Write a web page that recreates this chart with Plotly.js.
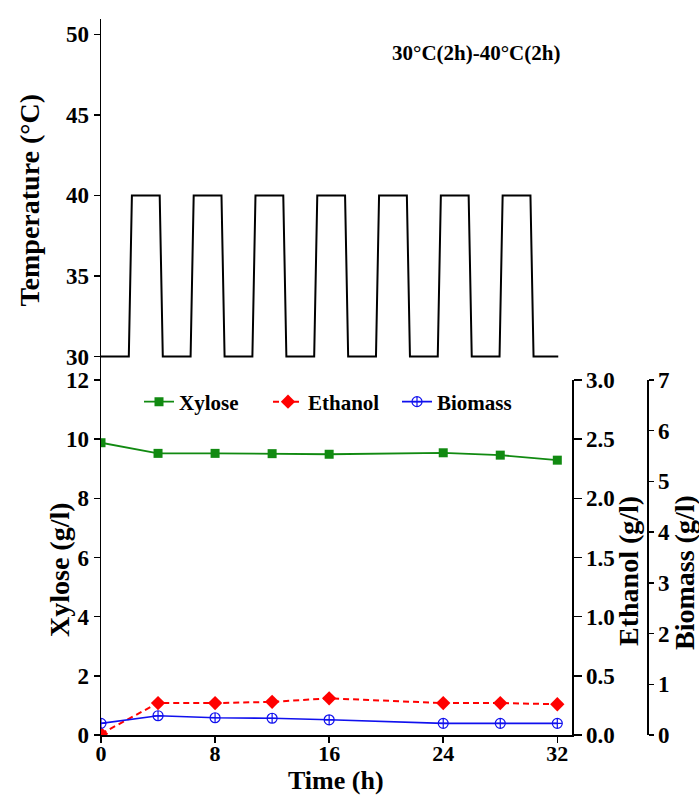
<!DOCTYPE html>
<html>
<head>
<meta charset="utf-8">
<script src="https://cdn.plot.ly/plotly-3.0.1.min.js"></script>
<style>
html,body{margin:0;padding:0;background:#fff;}
#chart{width:699px;height:796px;}
</style>
</head>
<body>
<div id="chart"></div>
<script>
// ---- Data ----
var time = [0, 4, 8, 12, 16, 24, 28, 32];
var xylose = [9.88, 9.52, 9.52, 9.51, 9.49, 9.54, 9.46, 9.29];
var ethanol = [0.01, 0.27, 0.27, 0.28, 0.31, 0.27, 0.27, 0.26];
var biomass = [0.23, 0.38, 0.34, 0.33, 0.30, 0.23, 0.23, 0.23];

var tempTime = [0, 1.8, 2, 3.8, 4, 5.8, 6, 7.8, 8, 9.8, 10, 11.8, 12, 13.8, 14,
                15.8, 16, 17.8, 18, 19.8, 20, 21.8, 22, 23.8, 24, 25.8, 26, 27.8, 28, 29.6];
var tempValue = [30, 30, 40, 40, 30, 30, 40, 40, 30, 30, 40, 40, 30, 30, 40,
                 40, 30, 30, 40, 40, 30, 30, 40, 40, 30, 30, 40, 40, 30, 30];

var xTicks = [0, 8, 16, 24, 32];
var xyloseTicks = [0, 2, 4, 6, 8, 10, 12];
var ethanolTicks = [0, 0.5, 1.0, 1.5, 2.0, 2.5, 3.0];
var ethanolTickText = ['0.0', '0.5', '1.0', '1.5', '2.0', '2.5', '3.0'];
var biomassTicks = [0, 1, 2, 3, 4, 5, 6, 7];
var tempTicks = [30, 35, 40, 45, 50];

var seriesNames = ['Xylose', 'Ethanol', 'Biomass'];
var panelLabel = '30°C(2h)-40°C(2h)';

// ---- Styling ----
var FAM = 'Liberation Serif, Times New Roman, serif';
var tickFont = {family: FAM, size: 23, color: '#000', weight: 'bold'};
var titleFont = {family: FAM, size: 28, color: '#000', weight: 'bold'};

var traces = [
  {x: tempTime, y: tempValue, xaxis: 'x2', yaxis: 'y4', mode: 'lines',
   line: {color: '#000', width: 2}, showlegend: false, hoverinfo: 'skip'},
  {x: time, y: xylose, name: seriesNames[0], xaxis: 'x', yaxis: 'y', mode: 'lines+markers',
   line: {color: '#118a11', width: 1.8},
   marker: {symbol: 'square', size: 9, color: '#118a11'}},
  {x: time, y: ethanol, name: seriesNames[1], xaxis: 'x', yaxis: 'y2', mode: 'lines+markers',
   line: {color: '#ff0000', width: 2, dash: '6px,4px'},
   marker: {symbol: 'diamond', size: 11, color: '#ff0000'}},
  {x: time, y: biomass, name: seriesNames[2], xaxis: 'x', yaxis: 'y3', mode: 'lines+markers',
   line: {color: '#1010ee', width: 1.6},
   marker: {symbol: 'circle-cross-open', size: 10, color: '#1010ee', line: {width: 1.2, color: '#1010ee'}}}
];

var L = 101, R = 52, T = 19, B = 61;
var W = 699, H = 796;
var pw = W - L - R, ph = H - T - B;
function px2x(p){ return (p - L) / pw; }
function px2y(p){ return (H - B - p) / ph; }
var xEnd = px2x(572);
var split = px2y(380);

var axisCommon = {showline: true, linecolor: '#000', linewidth: 1.5, ticks: 'outside',
  tickcolor: '#000', tickwidth: 1.5, ticklen: 6, showgrid: false, zeroline: false,
  tickfont: tickFont, fixedrange: true};

var layout = {
  width: W, height: H,
  margin: {l: L, r: R, t: T, b: B},
  paper_bgcolor: '#fff', plot_bgcolor: 'rgba(0,0,0,0)',
  showlegend: true,
  legend: {orientation: 'h', x: px2x(139), xanchor: 'left', y: px2y(402), yanchor: 'middle',
    font: {family: FAM, size: 21, color: '#000', weight: 'bold'}, bgcolor: 'rgba(0,0,0,0)',
    itemwidth: 30, entrywidth: 84, entrywidthmode: 'pixels'},
  xaxis: Object.assign({}, axisCommon, {domain: [0, xEnd], range: [0, 33.03], anchor: 'y',
    tickvals: xTicks, ticklen: 6, ticklabelstandoff: -8,
    tickfont: {family: FAM, size: 22, color: '#000', weight: 'bold'}}),
  yaxis: Object.assign({}, axisCommon, {domain: [0, split], range: [0, 12], anchor: 'x',
    tickvals: xyloseTicks}),
  yaxis2: Object.assign({}, axisCommon, {overlaying: 'y', side: 'right', anchor: 'x',
    range: [0, 3], tickvals: ethanolTicks, ticktext: ethanolTickText, ticklen: 8}),
  yaxis3: Object.assign({}, axisCommon, {overlaying: 'y', side: 'right', anchor: 'free',
    position: 1, range: [0, 7], tickvals: biomassTicks, ticklen: 5}),
  xaxis2: {domain: [0, xEnd], range: [0, 30.49], anchor: 'y4', visible: false, fixedrange: true},
  yaxis4: Object.assign({}, axisCommon, {domain: [split, 1], range: [28.54, 50.95], anchor: 'x2',
    tickvals: tempTicks}),
  annotations: [
    {text: panelLabel, xref: 'paper', yref: 'paper', x: px2x(562), y: px2y(53),
     xanchor: 'right', yanchor: 'middle', showarrow: false,
     font: {family: FAM, size: 21, color: '#000', weight: 'bold'}},
    {text: 'Temperature (°C)', xref: 'paper', yref: 'paper', x: px2x(28.5), y: px2y(200),
     xanchor: 'center', yanchor: 'middle', textangle: -90, showarrow: false, font: titleFont},
    {text: 'Xylose (g/l)', xref: 'paper', yref: 'paper', x: px2x(59), y: px2y(570),
     xanchor: 'center', yanchor: 'middle', textangle: -90, showarrow: false, font: titleFont},
    {text: 'Ethanol (g/l)', xref: 'paper', yref: 'paper', x: px2x(628), y: px2y(571),
     xanchor: 'center', yanchor: 'middle', textangle: -90, showarrow: false, font: titleFont},
    {text: 'Biomass (g/l)', xref: 'paper', yref: 'paper', x: px2x(684), y: px2y(573),
     xanchor: 'center', yanchor: 'middle', textangle: -90, showarrow: false, font: titleFont},
    {text: 'Time (h)', xref: 'paper', yref: 'paper', x: px2x(336), y: px2y(781),
     xanchor: 'center', yanchor: 'middle', showarrow: false,
     font: {family: FAM, size: 26, color: '#000', weight: 'bold'}}
  ]
};

Plotly.newPlot('chart', traces, layout, {displayModeBar: false, staticPlot: true});
</script>
</body>
</html>
